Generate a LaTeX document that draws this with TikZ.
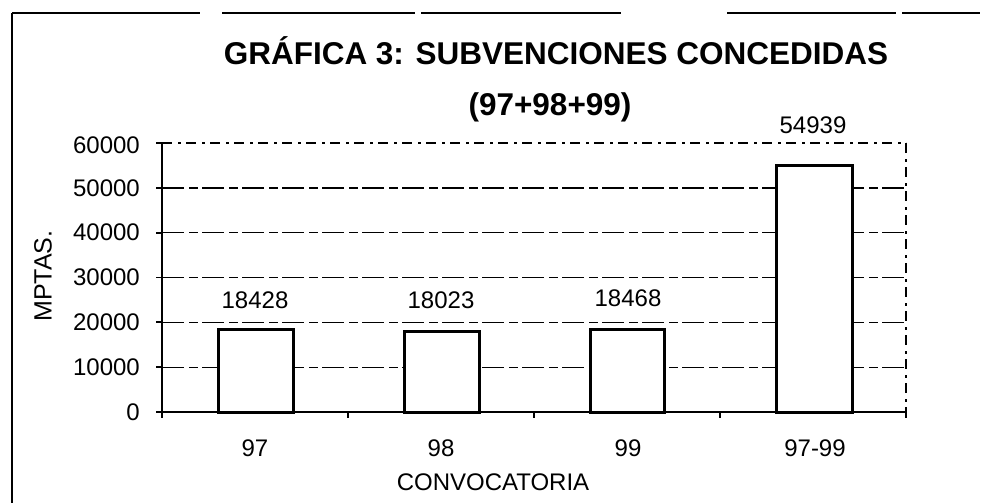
\documentclass[tikz,border=0pt]{standalone}
\usepackage{fontspec}
\setmainfont{Liberation Sans}
\begin{document}
\begin{tikzpicture}[x=1pt,y=-1pt,
  grid/.style={line width=1.4pt, dash pattern=on 22pt off 5pt on 9pt off 4pt},
  topgrid/.style={line width=1.2pt, dash pattern=on 10pt off 6pt on 3pt off 5pt},
  axis/.style={line width=2.8pt},
  bar/.style={draw, line width=3pt, fill=white},
  ticklab/.style={anchor=east, font=\fontsize{24}{28}\selectfont, inner sep=0pt},
  vallab/.style={font=\fontsize{24}{28}\selectfont, inner sep=0pt},
  catlab/.style={font=\fontsize{24}{28}\selectfont, inner sep=0pt},
  titlefont/.style={font=\fontsize{31.5}{36}\selectfont\bfseries, inner sep=0pt},
  frame/.style={line width=2.2pt}
]
\useasboundingbox (0,0) rectangle (999,503);

% scanned frame
\draw[frame] (12,503) -- (12,13);
\draw[line width=1.6pt, dash pattern=on 188pt off 22pt on 193pt off 6pt on 200pt off 106pt on 169pt off 6pt on 80pt] (12,13) -- (980,13);

% title
\node[titlefont, anchor=base] (t1) at (556,65) {GRÁFICA 3: SUBVENCIONES CONCEDIDAS};
\node[titlefont, anchor=base] (t2) at (550,115) {(97+98+99)};

% gridlines
\foreach \yy in {367.2,322.3,277.5,232.7,187.8}
  \draw[grid] (162,\yy) -- (906,\yy);
\draw[topgrid] (162,143) -- (906,143);
\draw[topgrid] (906,143) -- (906,412);

% bars
\draw[bar] (218,412) rectangle (293,329.4);
\draw[bar] (404,412) rectangle (479,331.2);
\draw[bar] (590,412) rectangle (664,329.2);
\draw[bar] (776,412) rectangle (852,165.7);

% axes
\coordinate (o) at (162,412);
\coordinate (yt) at (162,143);
\coordinate (xr) at (906,412);
\draw[axis] (yt) -- (o) -- (xr);

% ticks
\foreach \yy in {412,367.2,322.3,277.5,232.7,187.8,143}
  \draw[line width=1.8pt] (156,\yy) -- (162,\yy);
\foreach \xx in {162,348,534,720,906}
  \draw[line width=1.8pt] (\xx,412) -- (\xx,418);

% y tick labels
\node[ticklab] (l0) at (140,412) {0};
\node[ticklab] (l1) at (140,367.2) {10000};
\node[ticklab] (l2) at (140,322.3) {20000};
\node[ticklab] (l3) at (140,277.5) {30000};
\node[ticklab] (l4) at (140,232.7) {40000};
\node[ticklab] (l5) at (140,187.8) {50000};
\node[ticklab] (l6) at (140,145) {60000};

% value labels
\node[vallab] (v1) at (255,300) {18428};
\node[vallab] (v2) at (441,300) {18023};
\node[vallab] (v3) at (628,298.5) {18468};
\node[vallab] (v4) at (813,125) {54939};

% category labels
\node[catlab] (c1) at (255,448) {97};
\node[catlab] (c2) at (441,448) {98};
\node[catlab] (c3) at (628,448) {99};
\node[catlab] (c4) at (815,448) {97-99};

% axis titles
\node[catlab] (xt) at (493,482) {CONVOCATORIA};
\node[catlab, rotate=90, font=\fontsize{25}{28}\selectfont] (ytl) at (43,276) {MPTAS.};
\end{tikzpicture}
\end{document}
